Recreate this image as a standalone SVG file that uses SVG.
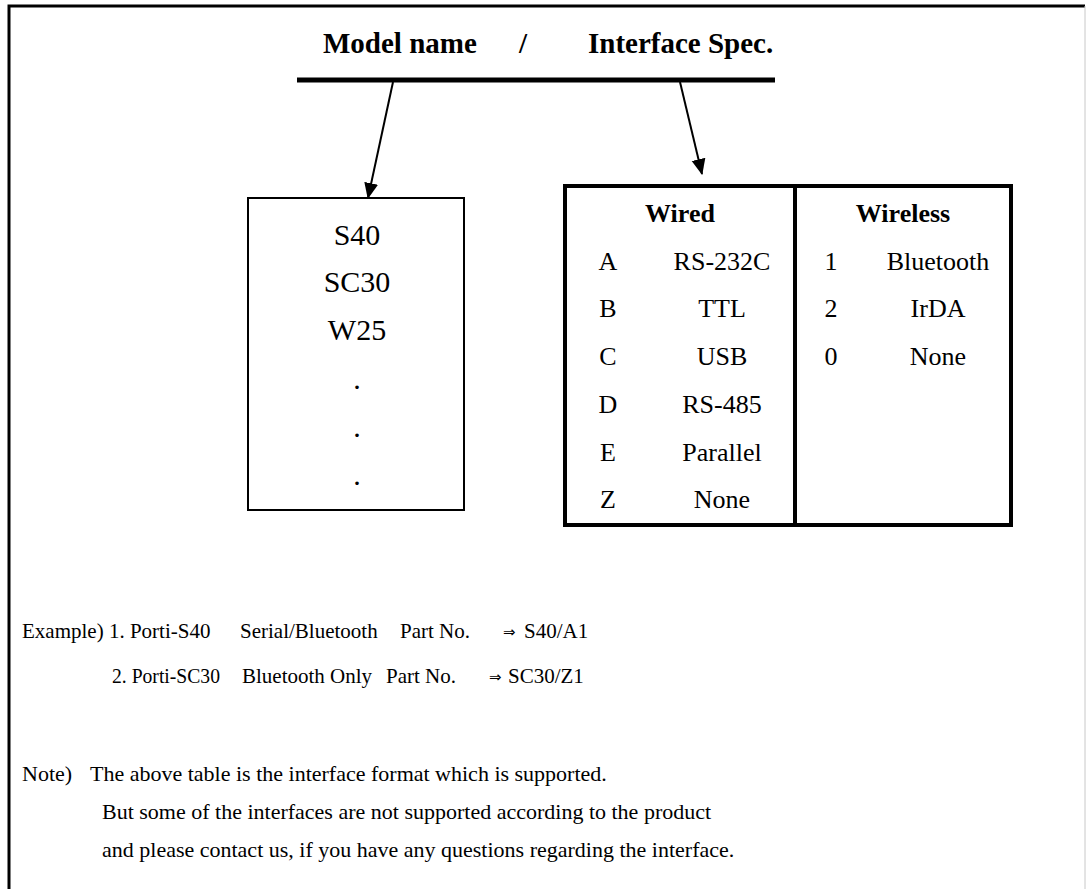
<svg xmlns="http://www.w3.org/2000/svg" width="1086" height="889" viewBox="0 0 1086 889">
  <style>
    .t { font-family: "Liberation Serif", "Times New Roman", serif; fill: #000; }
    .hdr { font-size: 29px; font-weight: bold; }
    .mdl { font-size: 30px; text-anchor: middle; }
    .tb { font-size: 26px; text-anchor: middle; }
    .tbh { font-size: 26px; font-weight: bold; text-anchor: middle; }
    .bt { font-size: 21px; }
    .nt { font-size: 22px; }
    .sym { font-family: "DejaVu Sans", sans-serif; font-size: 15px; fill: #000; }
    .conn { stroke: #000; stroke-width: 2; fill: none; }
  </style>
  <defs>
    <marker id="arr" markerUnits="userSpaceOnUse" markerWidth="16" markerHeight="16" viewBox="0 0 16 16" refX="15" refY="8" orient="auto">
      <path d="M0,1 L16,8 L0,15 Z" fill="#000"/>
    </marker>
  </defs>
  <rect width="1086" height="889" fill="#fff"/>
  <path d="M9,889 V6 H1085" stroke="#000" stroke-width="3" fill="none"/>
  <line x1="1085" y1="6" x2="1085" y2="889" stroke="#c8c8c8" stroke-width="1"/>

  <g id="header">
    <text class="t hdr" x="323" y="53">Model name</text>
    <text class="t hdr" x="519" y="53">/</text>
    <text class="t hdr" x="588" y="53">Interface Spec.</text>
    <line x1="297" y1="80" x2="775" y2="80" stroke="#000" stroke-width="5"/>
  </g>

  <g id="connectors">
    <line class="conn" x1="393" y1="82" x2="368" y2="198" marker-end="url(#arr)"/>
    <line class="conn" x1="680" y1="82" x2="702" y2="174" marker-end="url(#arr)"/>
  </g>

  <g id="model-box">
    <rect x="248" y="198" width="216" height="312" fill="none" stroke="#000" stroke-width="2"/>
    <text class="t mdl" x="357" y="245">S40</text>
    <text class="t mdl" x="357" y="292">SC30</text>
    <text class="t mdl" x="357" y="340">W25</text>
    <text class="t mdl" x="357" y="389">.</text>
    <text class="t mdl" x="357" y="437">.</text>
    <text class="t mdl" x="357" y="485">.</text>
  </g>

  <g id="interface-table">
    <rect x="565" y="186" width="446" height="339" fill="none" stroke="#000" stroke-width="4"/>
    <line x1="795" y1="186" x2="795" y2="525" stroke="#000" stroke-width="4"/>
    <text class="t tbh" x="680" y="222">Wired</text>
    <text class="t tbh" x="903" y="222">Wireless</text>
    <text class="t tb" x="608" y="270">A</text><text class="t tb" x="722" y="270">RS-232C</text>
    <text class="t tb" x="608" y="317">B</text><text class="t tb" x="722" y="317">TTL</text>
    <text class="t tb" x="608" y="365">C</text><text class="t tb" x="722" y="365">USB</text>
    <text class="t tb" x="608" y="413">D</text><text class="t tb" x="722" y="413">RS-485</text>
    <text class="t tb" x="608" y="461">E</text><text class="t tb" x="722" y="461">Parallel</text>
    <text class="t tb" x="608" y="508">Z</text><text class="t tb" x="722" y="508">None</text>
    <text class="t tb" x="831" y="270">1</text><text class="t tb" x="938" y="270">Bluetooth</text>
    <text class="t tb" x="831" y="317">2</text><text class="t tb" x="938" y="317">IrDA</text>
    <text class="t tb" x="831" y="365">0</text><text class="t tb" x="938" y="365">None</text>
  </g>

  <g id="examples">
    <text class="t bt" x="22" y="638">Example) 1. Porti-S40</text>
    <text class="t bt" x="240" y="638">Serial/Bluetooth</text>
    <text class="t bt" x="400" y="638">Part No.</text>
    <text class="sym" x="503" y="637">⇒</text>
    <text class="t bt" x="524" y="638">S40/A1</text>
    <text class="t bt" x="112" y="683" textLength="108" lengthAdjust="spacingAndGlyphs">2. Porti-SC30</text>
    <text class="t bt" x="242" y="683">Bluetooth Only</text>
    <text class="t bt" x="386" y="683">Part No.</text>
    <text class="sym" x="489" y="682">⇒</text>
    <text class="t bt" x="508" y="683">SC30/Z1</text>
  </g>

  <g id="note">
    <text class="t nt" x="22" y="781">Note)</text>
    <text class="t nt" x="90" y="781">The above table is the interface format which is supported.</text>
    <text class="t nt" x="102" y="819">But some of the interfaces are not supported according to the product</text>
    <text class="t nt" x="102" y="857">and please contact us, if you have any questions regarding the interface.</text>
  </g>
</svg>
